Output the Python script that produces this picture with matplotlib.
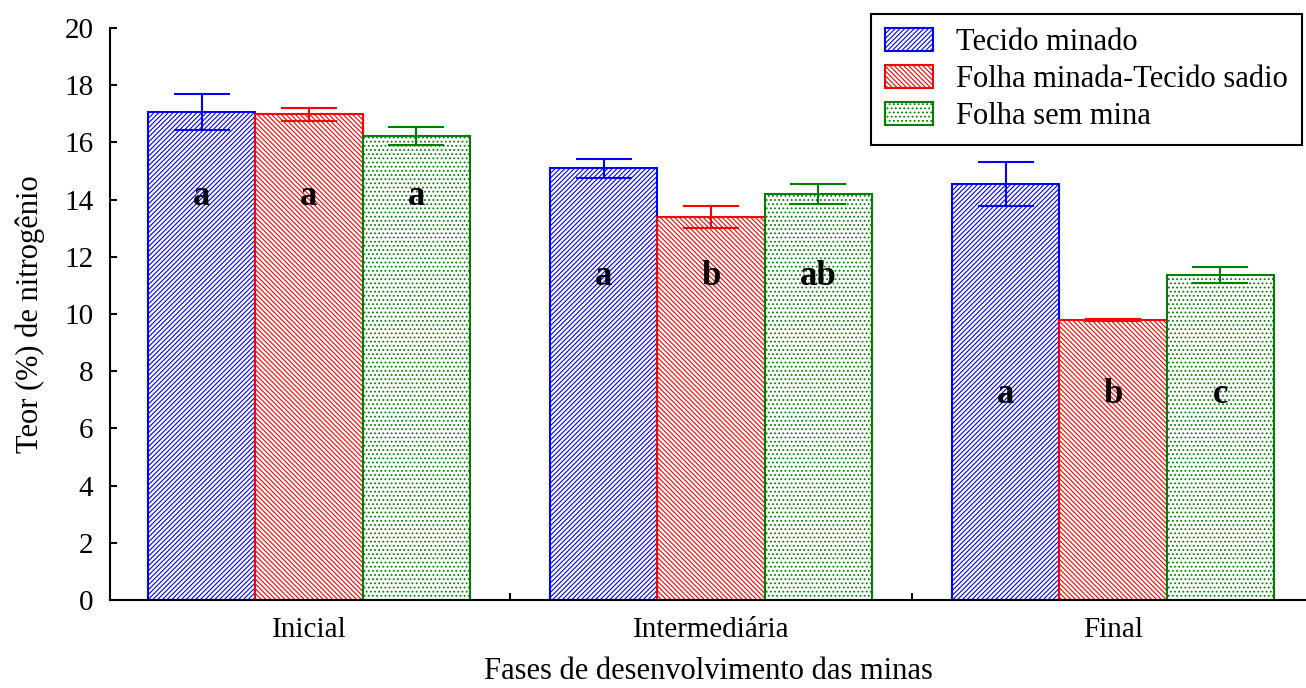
import numpy as np
import matplotlib.pyplot as plt

plt.rcParams['font.family'] = ['Liberation Serif', 'DejaVu Serif']
plt.rcParams['hatch.linewidth'] = 0.8

fases = ['Inicial', 'Intermediária', 'Final']
series = ['Tecido minado', 'Folha minada-Tecido sadio', 'Folha sem mina']

tecido_minado = [17.06, 15.10, 14.55]
tecido_minado_err = [0.63, 0.33, 0.77]
folha_minada = [16.99, 13.39, 9.79]
folha_minada_err = [0.23, 0.39, 0.05]
folha_sem_mina = [16.22, 14.20, 11.36]
folha_sem_mina_err = [0.31, 0.35, 0.28]

letras_tm = ['a', 'a', 'a']
letras_fm = ['a', 'b', 'b']
letras_fs = ['a', 'ab', 'c']
letras_y = [14.1, 11.3, 7.2]

cores = ['#0000ff', '#ff0000', '#008000']
hatches = ['///////', '\\\\\\\\\\\\\\', '....']

fig = plt.figure(figsize=(13.06, 6.88), dpi=100)
ax = fig.add_axes([110 / 1306, 88 / 688, 1196 / 1306, 572 / 688])

x = np.arange(len(fases))
w = 0.2667
valores = [tecido_minado, folha_minada, folha_sem_mina]
erros = [tecido_minado_err, folha_minada_err, folha_sem_mina_err]
letras = [letras_tm, letras_fm, letras_fs]

for i in range(3):
    pos = x + (i - 1) * w
    ax.bar(pos, valores[i], w, facecolor='white', edgecolor=cores[i],
           hatch=hatches[i], linewidth=1.5, label=series[i], zorder=2)
    ax.errorbar(pos, valores[i], yerr=erros[i], fmt='none', ecolor=cores[i],
                elinewidth=1.5, capsize=20, capthick=1.5, zorder=3)
    for j in range(3):
        ax.text(pos[j], letras_y[j], letras[i][j], ha='center', va='center',
                fontsize=25, fontweight='bold', zorder=4)

ax.set_ylim(0, 20)
ax.set_yticks(range(0, 21, 2))
ax.set_xlim(-0.495, 2.48)
ax.set_xticks(x)
ax.set_xticklabels(fases)
ax.set_xticks([0.5, 1.5], minor=True)
ax.tick_params(axis='x', which='major', length=0, labelsize=21, pad=12)
ax.tick_params(axis='x', which='minor', direction='in', length=5, width=1.5)
ax.tick_params(axis='y', direction='in', length=5, width=1.5, labelsize=21, pad=12)

for s in ['top', 'right']:
    ax.spines[s].set_visible(False)
for s in ['left', 'bottom']:
    ax.spines[s].set_linewidth(1.5)

ax.set_ylabel('Teor (%) de nitrogênio', fontsize=22, labelpad=14)
ax.set_xlabel('Fases de desenvolvimento das minas', fontsize=22, labelpad=10)

leg = ax.legend(loc='upper right', bbox_to_anchor=(1302 / 1306, 1 - 14 / 688),
                bbox_transform=fig.transFigure, borderaxespad=0, fontsize=22,
                fancybox=False, edgecolor='black', framealpha=1,
                handlelength=1.6, handleheight=0.8, borderpad=0.45,
                labelspacing=0.25, handletextpad=0.75)
leg.get_frame().set_linewidth(1.5)

fig.savefig('out.png', dpi=100)
